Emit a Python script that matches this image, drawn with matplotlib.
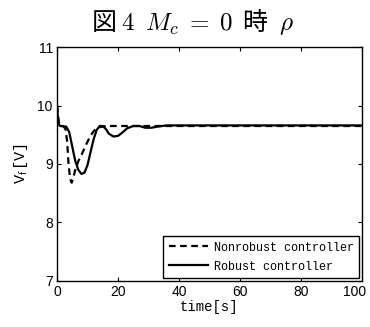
import matplotlib
matplotlib.use("Agg")
import matplotlib.pyplot as plt
from matplotlib.transforms import ScaledTranslation

t_nonrobust = [0, 0.3, 0.6, 1.0, 2.0, 2.8, 3.3, 3.8, 4.3, 4.8, 5.3, 6.0, 7.0, 8.0,
               9.0, 10.0, 11.0, 12.0, 13.0, 14.0, 16.0, 100]
v_nonrobust = [10.0, 9.85, 9.72, 9.66, 9.65, 9.6, 9.4, 9.0, 8.75, 8.68, 8.75, 8.9, 9.05, 9.15,
               9.27, 9.38, 9.48, 9.56, 9.61, 9.63, 9.65, 9.65]

t_robust = [0, 0.3, 0.6, 1.0, 3.0, 4.0, 5.0, 6.0, 7.0, 8.0, 9.0, 10.0, 11.0, 12.0, 13.0,
            14.0, 15.0, 16.0, 17.0, 18.5, 20.0, 21.5, 23.0, 25.0, 27.0, 29.0, 31.0, 33.0,
            36.0, 40.0, 100]
v_robust = [10.0, 9.8, 9.68, 9.65, 9.64, 9.55, 9.3, 9.05, 8.9, 8.83, 8.85, 8.98, 9.2, 9.42,
            9.58, 9.65, 9.65, 9.6, 9.52, 9.47, 9.48, 9.54, 9.61, 9.65, 9.65, 9.62, 9.62, 9.64,
            9.66, 9.66, 9.66]

x_ticks = [0, 20, 40, 60, 80, 100]
y_ticks = [7, 8, 9, 10, 11]

plt.rcParams["mathtext.fontset"] = "cm"
tick_font = ["Liberation Sans", "DejaVu Sans"]
label_font = ["Liberation Mono", "DejaVu Sans Mono"]

fig = plt.figure(figsize=(3.7, 3.27), dpi=100)
ax = fig.add_axes([0.154, 0.141, 0.824, 0.715])

ax.plot(t_nonrobust, v_nonrobust, color="black", linewidth=1.6,
        linestyle=(0, (3, 2)), label="Nonrobust controller")
ax.plot(t_robust, v_robust, color="black", linewidth=1.6, label="Robust controller")

ax.set_xlim(0, 100)
ax.set_ylim(7, 11)
ax.set_xticks(x_ticks)
ax.set_yticks(y_ticks)
ax.tick_params(direction="in", top=True, right=True, length=3, width=0.8, pad=3)
for lab in ax.get_xticklabels() + ax.get_yticklabels():
    lab.set_family(tick_font)
    lab.set_fontsize(10)
# last x label sits a little left in the original export
last = ax.get_xticklabels()[-1]
last.set_transform(last.get_transform() + ScaledTranslation(-5 / 72, 0, fig.dpi_scale_trans))
for sp in ax.spines.values():
    sp.set_linewidth(1.0)

ax.set_xlabel("time[s]", family=label_font, fontsize=10, labelpad=1)
ax.set_ylabel(r"V$_\mathsf{f}$[V]", family=label_font, fontsize=11, labelpad=5)

leg = ax.legend(loc="lower right", prop={"family": label_font, "size": 8.5},
                frameon=True, fancybox=False, edgecolor="black", framealpha=1,
                borderaxespad=0.25, handlelength=3.3, handletextpad=0.5,
                borderpad=0.45, labelspacing=0.6)
leg.get_frame().set_linewidth(1.0)

fig.text(0.52, 0.935, r"図 $4$  $M_c\;=\;0$  時  $\rho$", ha="center", va="center",
         fontsize=18, family=["Noto Sans CJK JP", "DejaVu Sans"])

fig.savefig("out.png", dpi=100)
